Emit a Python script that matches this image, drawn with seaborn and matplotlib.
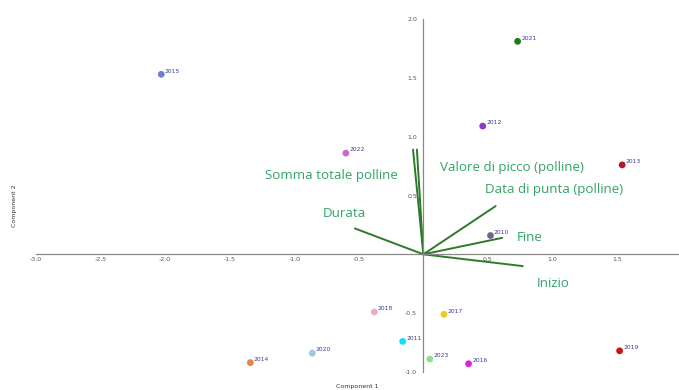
import matplotlib
matplotlib.use("Agg")
import matplotlib.pyplot as plt
import seaborn as sns
import pandas as pd

# Punteggi PCA per anno
years = ["2015", "2021", "2012", "2022", "2013", "2010", "2018",
         "2017", "2011", "2020", "2014", "2023", "2016", "2019"]
comp1 = [-2.03, 0.73, 0.46, -0.60, 1.54, 0.52, -0.38,
         0.16, -0.16, -0.86, -1.34, 0.05, 0.35, 1.52]
comp2 = [1.53, 1.81, 1.09, 0.86, 0.76, 0.16, -0.49,
         -0.51, -0.74, -0.84, -0.92, -0.89, -0.93, -0.82]
point_colors = ["#6a7fd8", "#1f7a1f", "#8a3cc8", "#cc6acc", "#b01c2e", "#6a6a8e", "#f0a8c8",
                "#e8cc22", "#10e0f0", "#9cc8e0", "#f0804a", "#90e090", "#e020e0", "#cc1414"]

# Vettori dei carichi (loadings)
variables = ["Somma totale polline", "Valore di picco (polline)", "Data di punta (polline)",
             "Durata", "Fine", "Inizio"]
load1 = [-0.08, -0.05, 0.56, -0.53, 0.61, 0.77]
load2 = [0.89, 0.89, 0.41, 0.22, 0.14, -0.10]
label_x = [-1.23, 0.13, 0.48, -0.78, 0.72, 0.88]
label_y = [0.67, 0.74, 0.55, 0.35, 0.14, -0.25]

df = pd.DataFrame({"year": years, "c1": comp1, "c2": comp2})

sns.set_style("white")
plt.rcParams["font.family"] = ["DejaVu Sans"]

fig = plt.figure(figsize=(6.79, 3.90), dpi=100)
ax = fig.add_axes([36 / 679, 18 / 390, 643 / 679, 353 / 390])

sns.scatterplot(data=df, x="c1", y="c2", hue="year", palette=point_colors,
                s=24, linewidth=0, legend=False, ax=ax, zorder=3)

for yr, x, y in zip(years, comp1, comp2):
    ax.annotate(yr, (x, y), xytext=(2.5, 0.5), textcoords="offset points",
                fontsize=4.3, color="#3a3a9c", va="bottom")

for lx, ly in zip(load1, load2):
    ax.plot([0, lx], [0, ly], color="#2f7a2a", linewidth=1.4, zorder=2)

for name, tx, ty in zip(variables, label_x, label_y):
    ax.text(tx, ty, name, fontsize=9.6, color="#30a466", va="center", ha="left",
            family=["Open Sans", "DejaVu Sans"])

ax.set_xlim(-3.0, 1.98)
ax.set_ylim(-1.0, 2.0)
ax.spines["left"].set_position(("data", 0))
ax.spines["bottom"].set_position(("data", 0))
ax.spines["right"].set_visible(False)
ax.spines["top"].set_visible(False)
for s in ["left", "bottom"]:
    ax.spines[s].set_color("#888888")
    ax.spines[s].set_linewidth(0.9)

ax.set_xticks([-3.0, -2.5, -2.0, -1.5, -1.0, -0.5, 0.5, 1.0, 1.5])
ax.set_yticks([-1.0, -0.5, 0.5, 1.0, 1.5, 2.0])
ax.set_xticklabels(["-3.0", "-2.5", "-2.0", "-1.5", "-1.0", "-0.5", "0.5", "1.0", "1.5"])
ax.set_yticklabels(["-1.0", "-0.5", "0.5", "1.0", "1.5", "2.0"])
ax.tick_params(axis="both", labelsize=4.5, colors="#555555", length=2.5, width=0.6, pad=2)
ax.tick_params(axis="x", direction="in")

ax.set_xlabel("Component 1", fontsize=4.5, color="#333333")
ax.set_ylabel("Component 2", fontsize=4.5, color="#333333")
ax.xaxis.set_label_coords(0.5, -0.035)
ax.yaxis.set_label_coords(-0.03, 0.47)

fig.savefig("out.png", dpi=100)
